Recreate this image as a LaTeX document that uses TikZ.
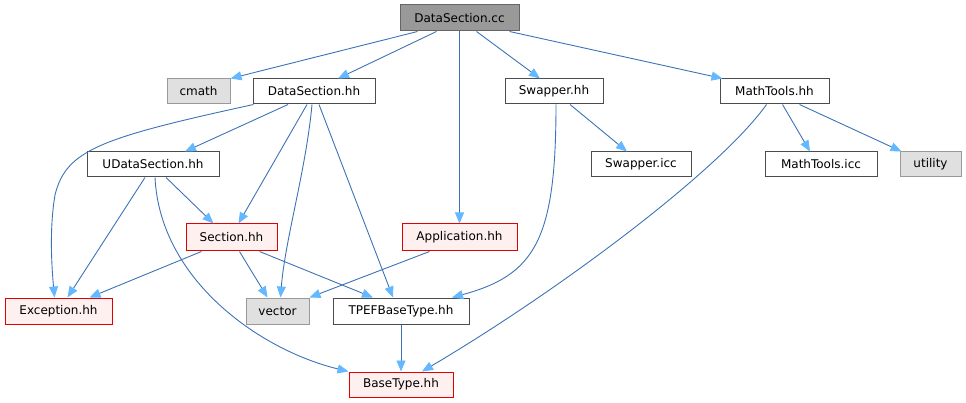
\documentclass[tikz,border=0pt]{standalone}
\usepackage{fontspec}
\setmainfont{DejaVu Sans}
\usetikzlibrary{arrows.meta}

\definecolor{edgeblue}{RGB}{60,115,180}
\definecolor{headblue}{RGB}{99,184,255}
\definecolor{redfill}{RGB}{255,240,240}
\definecolor{sysfill}{RGB}{224,224,224}

\begin{document}
\begin{tikzpicture}[
    x=1pt, y=-1pt,
    every node/.style={font=\fontsize{12}{14}\selectfont, inner sep=0pt, minimum height=25pt},
    file/.style={draw=black!70, fill=white, line width=1pt},
    sysfile/.style={draw=black!40, fill=sysfill, line width=1pt},
    badfile/.style={draw=red!90!black, fill=redfill, line width=1pt},
    rootfile/.style={draw=black!60, fill=black!40, line width=1pt},
    dep/.style={-{Triangle[length=11pt, width=9pt, color=headblue, fill=headblue]}, draw=edgeblue, line width=0.9pt}
]
\useasboundingbox (0,0) rectangle (966,403);

% nodes, one row after the other
\node[rootfile, minimum width=119pt, minimum height=26pt] (cc) at (459.5,18) {DataSection.cc};

\node[sysfile, minimum width=63pt] (cmath) at (198.5,91.5) {cmath};
\node[file, minimum width=122pt] (dsh) at (314,91.5) {DataSection.hh};
\node[file, minimum width=98pt] (swh) at (554,91.5) {Swapper.hh};
\node[file, minimum width=109pt] (mth) at (774.5,91.5) {MathTools.hh};

\node[file, minimum width=132pt] (udsh) at (153,164.5) {UDataSection.hh};
\node[file, minimum width=100pt] (swi) at (641,164.5) {Swapper.icc};
\node[file, minimum width=112pt] (mti) at (821,164.5) {MathTools.icc};
\node[sysfile, minimum width=61pt] (utility) at (930.5,164.5) {utility};

\node[badfile, minimum width=91pt, minimum height=27pt] (sec) at (231.5,237.5) {Section.hh};
\node[badfile, minimum width=115pt, minimum height=27pt] (app) at (459.5,237.5) {Application.hh};

\node[badfile, minimum width=107pt, minimum height=26pt] (exc) at (58.5,311) {Exception.hh};
\node[sysfile, minimum width=63pt, minimum height=26pt] (vector) at (277.5,311) {vector};
\node[file, minimum width=136pt, minimum height=26pt] (tpef) at (401,311) {TPEFBaseType.hh};

\node[badfile, minimum width=104pt] (bt) at (401,384.5) {BaseType.hh};

% includes of DataSection.cc
\draw[dep] ([xshift=-42]cc.south) -- (cmath.north east);
\draw[dep] ([xshift=-23]cc.south) -- ([xshift=24]dsh.north);
\draw[dep] (cc.south) -- (app.north);
\draw[dep] ([xshift=17]cc.south) -- ([xshift=-14]swh.north);
\draw[dep] ([xshift=50]cc.south) -- ([xshift=3]mth.north west);

% includes of DataSection.hh
\draw[dep] ([xshift=1]dsh.south west) .. controls (100,138) and (66,150) .. (55,195)
    .. controls (49,230) and (52,270) .. ([xshift=-4]exc.north);
\draw[dep] ([xshift=-26]dsh.south) -- ([xshift=32]udsh.north);
\draw[dep] ([xshift=-7]dsh.south) -- ([xshift=7]sec.north);
\draw[dep] ([xshift=-2]dsh.south) .. controls (306,170) and (285,240) .. ([xshift=3]vector.north);
\draw[dep] ([xshift=5]dsh.south) -- ([xshift=-8]tpef.north);

% includes of UDataSection.hh
\draw[dep] ([xshift=-8]udsh.south) -- ([xshift=9]exc.north);
\draw[dep] ([xshift=13]udsh.south) -- ([xshift=-18]sec.north);
\draw[dep] ([xshift=2]udsh.south) .. controls (160,280) and (260,350) .. (bt.north west);

% includes of Section.hh
\draw[dep] ([xshift=-30]sec.south) -- ([xshift=31]exc.north);
\draw[dep] ([xshift=8]sec.south) -- ([xshift=-10]vector.north);
\draw[dep] ([xshift=28]sec.south) -- ([xshift=-28]tpef.north);

\draw[dep] ([xshift=-30]app.south) -- (vector.north east);

% includes of Swapper.hh and MathTools.hh
\draw[dep] ([xshift=2]swh.south) .. controls (556,240) and (535,275) .. ([xshift=51]tpef.north);
\draw[dep] ([xshift=16]swh.south) -- ([xshift=-14]swi.north);
\draw[dep] ([xshift=-8]mth.south) .. controls (720,170) and (560,290) .. ([xshift=21]bt.north);
\draw[dep] ([xshift=8]mth.south) -- ([xshift=-11]mti.north);
\draw[dep] ([xshift=25]mth.south) -- ([xshift=2]utility.north west);

\draw[dep] (tpef.south) -- (bt.north);
\end{tikzpicture}
\end{document}
